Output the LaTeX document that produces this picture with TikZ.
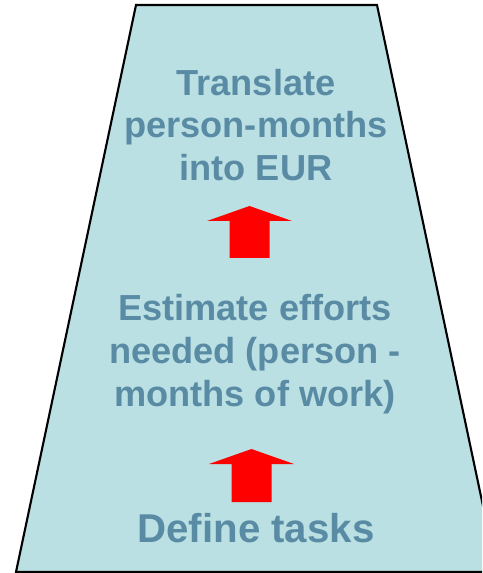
\documentclass[tikz,border=0pt]{standalone}
\usepackage{fontspec}
\setmainfont{Liberation Sans}
\definecolor{funnelfill}{HTML}{BAE0E3}
\definecolor{steptext}{HTML}{5A8BA4}
\tikzset{
  steplabel/.style={font=\fontsize{20.6}{24.4}\selectfont\bfseries, text=steptext, align=center, inner sep=0pt},
  uparrow/.style={fill=red}
}
\begin{document}
\begin{tikzpicture}[x=0.02cm,y=-0.02cm]
    \useasboundingbox (0,0) rectangle (482,573);
    \clip (0,0) rectangle (482,573);
    % funnel
    \draw[fill=funnelfill, line width=1.2pt] (136,5) -- (377,5) -- (497,572) -- (16,572) -- cycle;

    \node[steplabel] (translate) at (256,125) {Translate\\person-months\\into EUR};
    \node[steplabel] (estimate) at (255,354) {Estimate efforts\\needed (person -\\months of work)};
    \node[steplabel, font=\fontsize{22.9}{27}\selectfont\bfseries] (define) at (256,528) {Define tasks};

    % red arrows between the steps
    \foreach \cx/\ty/\by in {249.5/206/258, 251.5/449/502} {
      \fill[uparrow] (\cx,\ty) -- (\cx+42.5,\ty+15) -- (\cx+20,\ty+15) -- (\cx+20,\by)
        -- (\cx-20,\by) -- (\cx-20,\ty+15) -- (\cx-42.5,\ty+15) -- cycle;
    }
  \end{tikzpicture}
\end{document}
